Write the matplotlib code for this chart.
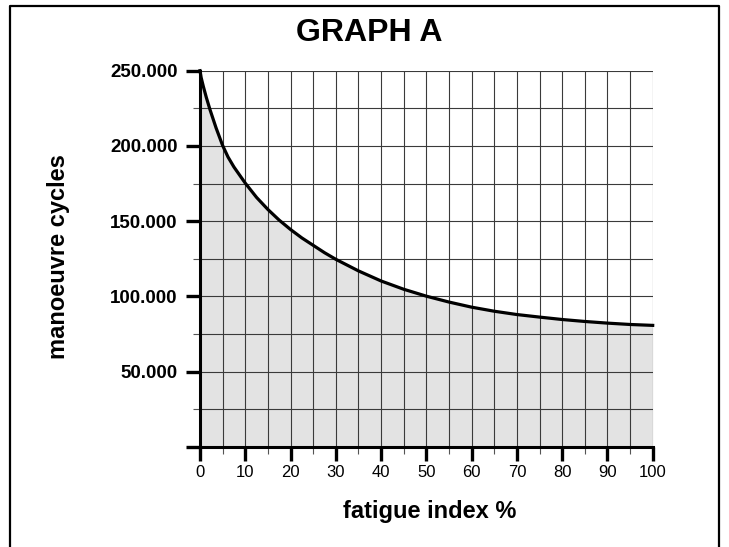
import numpy as np
import matplotlib
matplotlib.use('Agg')
import matplotlib.pyplot as plt
from matplotlib.lines import Line2D
from matplotlib.ticker import MultipleLocator

plt.rcParams['font.family'] = ['Liberation Sans', 'DejaVu Sans']

# curve
fatica = [0, 0.25, 0.74, 1.4, 2.2, 3.55, 5, 6.2, 7.5, 10, 12.5, 15, 17.5,
          20, 22.5, 25, 27.5, 30, 35, 40, 45, 50, 55, 60, 65, 70, 75, 80,
          85, 90, 95, 100]
cicli = [250000, 245500, 239500, 232200, 224200, 212000, 200300, 192600,
         186000, 175300, 165800, 157800, 150700, 144500, 138900, 134000,
         129100, 124700, 117000, 110300, 104800, 100200, 96300, 92900,
         90200, 88000, 86300, 84700, 83400, 82300, 81400, 80800]

xticks = [0, 10, 20, 30, 40, 50, 60, 70, 80, 90, 100]
yticks = [0, 50000, 100000, 150000, 200000, 250000]
ylabels = ['', '50.000', '100.000', '150.000', '200.000', '250.000']

fig = plt.figure(figsize=(7.29, 5.47), dpi=100)
ax = fig.add_axes([200/729, 1-447/547, 452.7/729, 376.3/547])

ax.fill_between(fatica, cicli, 0, color='#e3e3e3', lw=0, zorder=0.5)
ax.plot(fatica, cicli, color='black', lw=2.3, zorder=3, clip_on=False,
        solid_joinstyle='round')

ax.set_xlim(0, 100)
ax.set_ylim(0, 250000)
ax.set_xticks(xticks)
ax.set_xticklabels([str(t) for t in xticks], fontsize=12)
ax.set_yticks(yticks)
ax.set_yticklabels(ylabels, fontsize=13.5, fontweight='bold')
ax.xaxis.set_minor_locator(MultipleLocator(5))
ax.yaxis.set_minor_locator(MultipleLocator(25000))

ax.grid(True, which='both', color='#3a3a3a', lw=0.8, zorder=1)
ax.tick_params(which='major', length=10, width=2.4, color='black', pad=3)
ax.tick_params(axis='y', which='major', pad=6)
ax.tick_params(which='minor', length=5, width=0.8, color='#555555')

for s in ['top', 'right']:
    ax.spines[s].set_visible(False)
for s in ['left', 'bottom']:
    ax.spines[s].set_linewidth(2.2)
    ax.spines[s].set_zorder(4)

ax.set_xlabel('fatigue index %', fontsize=17, fontweight='bold', va='baseline')
ax.xaxis.set_label_coords(0.508, (447-518.3)/376.3)
ax.set_ylabel('manoeuvre cycles', fontsize=17, fontweight='bold', va='baseline')
ax.yaxis.set_label_coords((65.4-200)/452.7, 0.505)

fig.text(369/729, 1-40.7/547, 'GRAPH A', fontsize=23, fontweight='bold',
         ha='center', va='baseline')

# cornice
fig.add_artist(Line2D([10/729, 10/729, 718.5/729, 718.5/729],
                      [0, 1-5.5/547, 1-5.5/547, 0],
                      transform=fig.transFigure, color='black', lw=1.6))

fig.savefig('out.png', dpi=100)
